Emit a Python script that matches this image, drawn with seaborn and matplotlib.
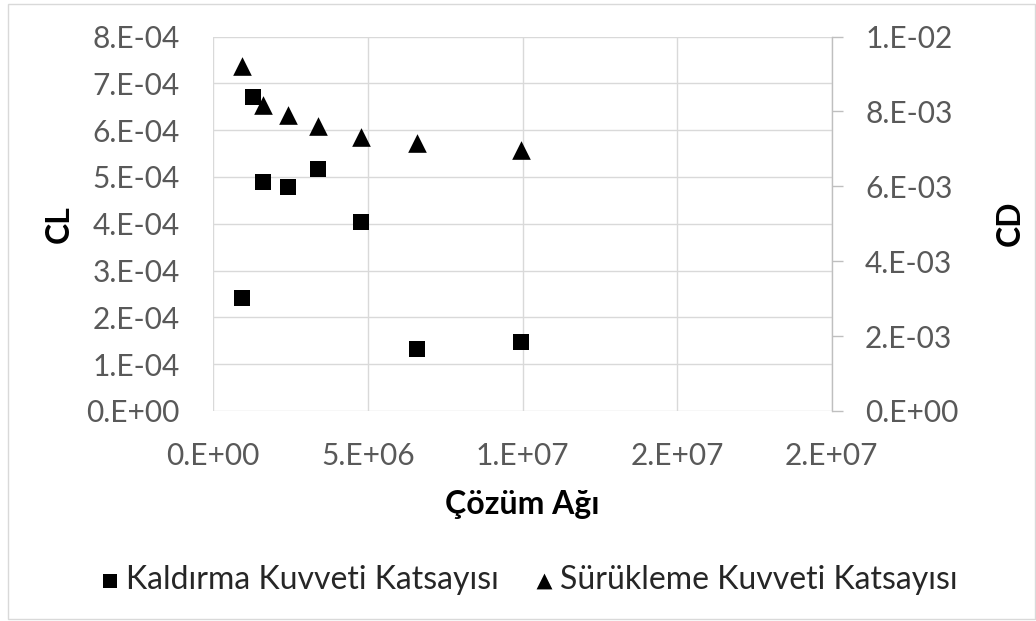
import numpy as np
import matplotlib
matplotlib.use('Agg')
import matplotlib.pyplot as plt
import seaborn as sns
from matplotlib.ticker import FuncFormatter, MultipleLocator
from matplotlib.patches import Rectangle

# mesh size (number of cells) and coefficients
mesh = [0.919e6, 1.294e6, 1.618e6, 2.408e6, 3.388e6, 4.780e6, 6.583e6, 9.948e6]
cl = [2.41e-4, 6.71e-4, 4.90e-4, 4.79e-4, 5.18e-4, 4.04e-4, 1.32e-4, 1.47e-4]
cd = [9.21e-3, np.nan, 8.17e-3, 7.90e-3, 7.61e-3, 7.32e-3, 7.15e-3, 6.97e-3]

label_cl = 'Kaldırma Kuvveti Katsayısı'
label_cd = 'Sürükleme Kuvveti Katsayısı'

sns.set_style('white')
plt.rcParams['font.family'] = ['Lato', 'DejaVu Sans']

grid_c = '#d9d9d9'
tick_c = '#595959'
fs_tick = 21.5
fs_title = 23


def excel_sci(v, pos):
    s = f'{v:.0E}'
    mant, exp = s.split('E')
    return f'{mant}.E{exp}'


fig = plt.figure(figsize=(10.36, 6.21), dpi=100)
ax = fig.add_axes([213.3 / 1036, 1 - 411 / 621, (831.7 - 213.3) / 1036, (411 - 36.5) / 621])
ax2 = ax.twinx()

sns.scatterplot(x=mesh, y=cl, marker='s', s=144, color='black', linewidth=0, ax=ax, label=label_cl, legend=False)
sns.scatterplot(x=mesh, y=cd, marker='^', s=180, color='black', linewidth=0, ax=ax2, label=label_cd, legend=False)

ax.set_xlim(0, 2e7)
ax.set_ylim(0, 8e-4)
ax2.set_ylim(0, 1e-2)
ax.xaxis.set_major_locator(MultipleLocator(5e6))
ax.yaxis.set_major_locator(MultipleLocator(1e-4))
ax2.yaxis.set_major_locator(MultipleLocator(2e-3))
for a in (ax.xaxis, ax.yaxis, ax2.yaxis):
    a.set_major_formatter(FuncFormatter(excel_sci))

ax.grid(True, color=grid_c, linewidth=1.0)
ax.set_axisbelow(True)
for sp in ax.spines.values():
    sp.set_visible(False)
for sp in ax2.spines.values():
    sp.set_visible(False)
ax2.spines['right'].set_visible(True)
ax2.spines['right'].set_color('#bfbfbf')
ax2.spines['right'].set_linewidth(1.0)

ax.tick_params(axis='both', length=0, labelsize=fs_tick, labelcolor=tick_c)
ax.tick_params(axis='x', pad=22)
ax.tick_params(axis='y', pad=24)
ax2.tick_params(axis='y', direction='out', length=8, width=1.0, color='#bfbfbf',
                labelsize=fs_tick, labelcolor=tick_c, pad=16)

ax.set_xlabel('Çözüm Ağı', fontsize=fs_title, fontweight='bold', color='black')
ax.xaxis.label.set_va('center')
ax.xaxis.set_label_coords(0.5, -0.251)
ax.set_ylabel('CL', fontsize=fs_title, fontweight='bold', color='black')
ax.yaxis.label.set_va('center')
ax.yaxis.set_label_coords(-0.2495, 0.5)
ax2.set_ylabel('CD', fontsize=fs_title, fontweight='bold', color='black')
ax2.yaxis.label.set_va('center')
ax2.yaxis.set_label_coords(1.288, 0.5)
for lab in (ax.xaxis.label, ax.yaxis.label, ax2.yaxis.label):
    lab.set_fontweight('bold')

h1, l1 = ax.get_legend_handles_labels()
h2, l2 = ax2.get_legend_handles_labels()
fig.legend(h1 + h2, l1 + l2, loc='center', bbox_to_anchor=(0.509, 0.066), ncol=2,
           frameon=False, fontsize=fs_title, markerscale=0.85, handletextpad=0.1,
           columnspacing=1.0, handlelength=0.8)

fig.patches.append(Rectangle((8 / 1036, 2 / 621), 1 - 9 / 1036, 1 - 6 / 621,
                             transform=fig.transFigure, fill=False,
                             edgecolor=grid_c, linewidth=1.0))

fig.savefig('out.png', dpi=100)
